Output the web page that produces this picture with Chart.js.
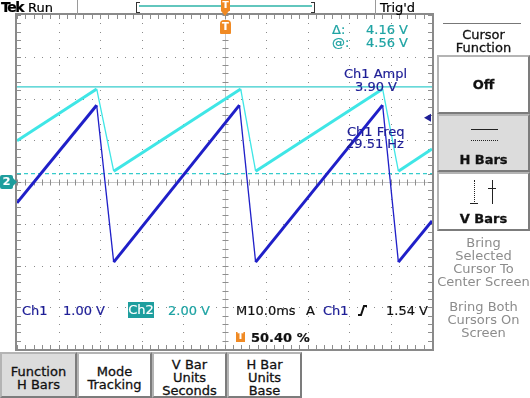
<!DOCTYPE html>
<html>
<head>
<meta charset="utf-8">
<script src="https://cdn.jsdelivr.net/npm/chart.js@4.4.0/dist/chart.umd.min.js"></script>
<style>
body{margin:0;background:#fff;font-family:"DejaVu Sans",sans-serif;}
#tela{position:relative;width:530px;height:398px;overflow:hidden;background:#fff;}
#tela canvas{position:absolute;left:0;top:0;}
.t{position:absolute;white-space:nowrap;font-size:13px;line-height:13px;-webkit-text-stroke:0.2px;}
.azul{color:#1e1e96;}
.teal{color:#1ea3a3;}
.cinza{color:#8c8c8c;-webkit-text-stroke:0;}
.caixa{position:absolute;box-sizing:border-box;border:2px solid #b4b4b4;border-right-color:#7c7c7c;border-bottom-color:#7c7c7c;background:#fff;text-align:center;font-size:13px;line-height:13px;color:#111;-webkit-text-stroke:0.3px;}
.sel{background:#dcdcdc;}
.centro{position:absolute;left:0;width:100%;text-align:center;}
</style>
</head>
<body>
<div id="tela">
  <canvas id="grafico" width="530" height="398"></canvas>

  <!-- barra de cima -->
  <div class="t" style="left:1px;top:0;font-weight:bold;font-size:14px;line-height:15px;letter-spacing:-1.5px;">Tek</div>
  <div class="t" style="left:28px;top:1px;">Run</div>
  <div style="position:absolute;left:77px;top:0;width:1px;height:15px;background:#9a9a9a;"></div>
  <div style="position:absolute;left:375px;top:0;width:1px;height:15px;background:#9a9a9a;"></div>
  <div style="position:absolute;left:136px;top:2px;width:3px;height:9px;border:1px solid #333;border-right:none;"></div>
  <div style="position:absolute;left:311px;top:2px;width:3px;height:9px;border:1px solid #333;border-left:none;"></div>
  <div style="position:absolute;left:139px;top:5px;width:173px;height:2px;background:#62c6bd;"></div>
  <div class="t" style="left:221px;top:0;width:9px;height:11px;background:#f08a24;color:#fff;font-size:9px;line-height:11px;text-align:center;font-weight:bold;">T</div>
  <div style="position:absolute;left:221px;top:11px;width:0;height:0;border-left:4.5px solid transparent;border-right:4.5px solid transparent;border-top:5px solid #f08a24;"></div>
  <div class="t" style="left:220px;top:20px;width:11px;height:14px;background:#f08a24;color:#fff;font-size:10px;line-height:14px;text-align:center;font-weight:bold;border-radius:4px 4px 1px 1px;">T</div>
  <div class="t" style="left:380px;top:1px;">Trig'd</div>

  <!-- leituras dos cursores -->
  <div class="t teal" style="left:332px;top:23px;">Δ:</div>
  <div class="t teal" style="left:366px;top:23px;">4.16 V</div>
  <div class="t teal" style="left:332px;top:36px;">@:</div>
  <div class="t teal" style="left:366px;top:36px;">4.56 V</div>

  <!-- medidas -->
  <div class="t azul" style="left:344px;top:67px;">Ch1 Ampl</div>
  <div class="t azul" style="left:355px;top:80px;">3.90 V</div>
  <div class="t azul" style="left:347px;top:125px;">Ch1 Freq</div>
  <div class="t azul" style="left:346px;top:137px;">29.51 Hz</div>

  <!-- marcador do Ch2 -->
  <div class="t" style="left:0;top:175px;width:13px;height:14px;background:#1e9e9e;color:#fff;font-size:11px;line-height:14px;text-align:center;font-weight:bold;border-radius:2px;">2</div>
  <div style="position:absolute;left:13px;top:178px;width:0;height:0;border-top:4px solid transparent;border-bottom:4px solid transparent;border-left:4px solid #1e9e9e;"></div>

  <!-- linha de estado -->
  <div class="t azul" style="left:22px;top:304px;">Ch1</div>
  <div class="t azul" style="left:63px;top:304px;">1.00 V</div>
  <div class="t" style="left:128px;top:302px;width:26px;height:16px;background:#1e9e9e;color:#fff;line-height:16px;text-align:center;">Ch2</div>
  <div class="t teal" style="left:168px;top:304px;">2.00 V</div>
  <div class="t" style="left:236px;top:304px;color:#111;">M10.0ms</div>
  <div class="t" style="left:306px;top:304px;color:#111;">A</div>
  <div class="t azul" style="left:323px;top:304px;">Ch1</div>
  <svg style="position:absolute;left:358px;top:304px;" width="10" height="13"><polyline points="0,11 3,11 6,2 9,2" fill="none" stroke="#111" stroke-width="2"/></svg>
  <div class="t" style="left:386px;top:304px;color:#111;">1.54 V</div>
  <div class="t" style="left:236px;top:332px;width:9px;height:10px;background:#f08a24;color:#fff;font-size:8px;line-height:10px;text-align:center;font-weight:bold;">T</div>
  <div class="t" style="left:251px;top:331px;color:#111;font-weight:bold;">50.40 %</div>

  <!-- menu da direita -->
  <div style="position:absolute;left:443px;top:23px;width:78px;height:1px;background:#777;"></div>
  <div class="t" style="left:437px;top:28px;width:93px;text-align:center;color:#111;line-height:13px;-webkit-text-stroke:0.3px;">Cursor<br>Function</div>
  <div class="caixa" style="left:437px;top:55px;width:93px;height:59px;">
    <div class="centro" style="top:21px;font-weight:bold;">Off</div>
  </div>
  <div class="caixa sel" style="left:437px;top:114px;width:93px;height:58px;">
    <div style="position:absolute;left:32px;top:13px;width:27px;border-top:1px solid #222;"></div>
    <div style="position:absolute;left:32px;top:24px;width:27px;border-top:1px dotted #222;"></div>
    <div class="centro" style="top:37px;font-weight:bold;">H Bars</div>
  </div>
  <div class="caixa" style="left:437px;top:172px;width:93px;height:59px;">
    <div style="position:absolute;left:35px;top:6px;height:24px;border-left:1px dotted #222;"></div>
    <div style="position:absolute;left:31px;top:29px;width:8px;border-top:1px solid #222;"></div>
    <div style="position:absolute;left:53px;top:6px;height:24px;border-left:1px solid #222;"></div>
    <div style="position:absolute;left:49px;top:14px;width:8px;border-top:1px solid #222;"></div>
    <div class="centro" style="top:38px;font-weight:bold;">V Bars</div>
  </div>
  <div class="t cinza" style="left:437px;top:236px;width:93px;text-align:center;">Bring<br>Selected<br>Cursor To<br>Center Screen</div>
  <div class="t cinza" style="left:437px;top:300px;width:93px;text-align:center;">Bring Both<br>Cursors On<br>Screen</div>

  <!-- menu de baixo -->
  <div class="caixa sel" style="left:0;top:352px;width:77px;height:46px;"><div class="centro" style="top:11px;">Function<br>H Bars</div></div>
  <div class="caixa" style="left:77px;top:352px;width:75px;height:46px;"><div class="centro" style="top:11px;">Mode<br>Tracking</div></div>
  <div class="caixa" style="left:152px;top:352px;width:75px;height:46px;"><div class="centro" style="top:4px;">V Bar<br>Units<br>Seconds</div></div>
  <div class="caixa" style="left:227px;top:352px;width:75px;height:46px;"><div class="centro" style="top:4px;">H Bar<br>Units<br>Base</div></div>
</div>

<script>
// Escalas do osciloscopio
var escalaTempo = 10;   // ms/div
var escalaCh1 = 1.00;   // V/div
var escalaCh2 = 2.00;   // V/div

// Ch1 (azul) - tempo em ms, tensao em V
var tempoCh1 = [-50, -30.8, -26.7, 3.6, 7.5, 38.1, 41.9, 50];
var voltsCh1 = [-0.5, 1.84, -1.92, 1.84, -1.92, 1.84, -1.92, -0.93];
// Ch2 (ciano)
var tempoCh2 = [-50, -30.8, -26.7, 3.9, 7.5, 38.1, 41.9, 50];
var voltsCh2 = [1.98, 4.46, 0.52, 4.46, 0.52, 4.46, 0.52, 1.58];

// cursores H Bars (no Ch2) e nivel do trigger (Ch1)
var cursores = [4.56, 0.40];
var nivelTrigger = 1.54;

function juntaPontos(tempo, volts){
  return tempo.map((t, i) => ({x: t, y: volts[i]}));
}

// grade do osciloscopio: pontos, cruz central com marcas, bordas
const graticulo = {
  id: 'graticulo',
  beforeDatasetsDraw(chart){
    const ctx = chart.ctx, a = chart.chartArea;
    const x = chart.scales.x, y = chart.scales.y;
    const nx = 5, ny = 4;
    ctx.save();
    ctx.fillStyle = '#8a8a8a';
    for (let d = -nx; d <= nx; d++){
      const px = Math.round(x.getPixelForValue(d*escalaTempo));
      for (let m = -ny*5; m <= ny*5; m++){
        ctx.fillRect(px, Math.round(y.getPixelForValue(m*escalaCh1/5)), 1, 1);
      }
    }
    for (let d = -ny; d <= ny; d++){
      const py = Math.round(y.getPixelForValue(d*escalaCh1));
      for (let m = -nx*5; m <= nx*5; m++){
        ctx.fillRect(Math.round(x.getPixelForValue(m*escalaTempo/5)), py, 1, 1);
      }
    }
    const cx = Math.round(x.getPixelForValue(0)) + 0.5;
    const cy = Math.round(y.getPixelForValue(0)) + 0.5;
    // cruz central fraca
    ctx.strokeStyle = '#c8c8c8';
    ctx.lineWidth = 1;
    ctx.beginPath();
    ctx.moveTo(a.left, cy); ctx.lineTo(a.right, cy);
    ctx.moveTo(cx, a.top); ctx.lineTo(cx, a.bottom);
    ctx.stroke();
    // marcas menores
    ctx.strokeStyle = '#8e8e8e';
    ctx.beginPath();
    for (let m = -nx*5; m <= nx*5; m++){
      const px = Math.round(x.getPixelForValue(m*escalaTempo/5)) + 0.5;
      ctx.moveTo(px, cy-3); ctx.lineTo(px, cy+3);
      ctx.moveTo(px, a.top); ctx.lineTo(px, a.top+4);
      ctx.moveTo(px, a.bottom); ctx.lineTo(px, a.bottom-4);
    }
    for (let m = -ny*5; m <= ny*5; m++){
      const py = Math.round(y.getPixelForValue(m*escalaCh1/5)) + 0.5;
      ctx.moveTo(cx-3, py); ctx.lineTo(cx+3, py);
      ctx.moveTo(a.left, py); ctx.lineTo(a.left+4, py);
      ctx.moveTo(a.right, py); ctx.lineTo(a.right-4, py);
    }
    ctx.stroke();
    ctx.strokeStyle = '#8a8a8a';
    ctx.lineWidth = 2;
    ctx.strokeRect(a.left-1, a.top-1, a.right-a.left+2, a.bottom-a.top+2);
    ctx.restore();
  },
  afterDatasetsDraw(chart){
    // seta do nivel de trigger na direita
    const ctx = chart.ctx, a = chart.chartArea;
    const py = chart.scales.y.getPixelForValue(nivelTrigger);
    ctx.save();
    ctx.fillStyle = '#1e1e96';
    ctx.beginPath();
    ctx.moveTo(a.right-8, py);
    ctx.lineTo(a.right-1, py-4);
    ctx.lineTo(a.right-1, py+4);
    ctx.closePath();
    ctx.fill();
    ctx.restore();
  }
};

// rampa de subida grossa, descida fina
function larguraTraco(c){
  return c.p1.parsed.y < c.p0.parsed.y ? 1.3 : 3;
}

new Chart(document.getElementById('grafico'), {
  type: 'scatter',
  data: {
    datasets: [
      {
        label: 'Ch1',
        data: juntaPontos(tempoCh1, voltsCh1),
        yAxisID: 'y',
        showLine: true,
        borderColor: '#1f1fc8',
        borderWidth: 3,
        pointRadius: 0,
        clip: 0,
        segment: {borderWidth: larguraTraco}
      },
      {
        label: 'Ch2',
        data: juntaPontos(tempoCh2, voltsCh2),
        yAxisID: 'y2',
        showLine: true,
        borderColor: '#3fe6e6',
        borderWidth: 3,
        pointRadius: 0,
        clip: 0,
        segment: {borderWidth: larguraTraco}
      },
      {
        label: 'Cursor 1',
        data: [{x: -5*escalaTempo, y: cursores[0]}, {x: 5*escalaTempo, y: cursores[0]}],
        yAxisID: 'y2',
        showLine: true,
        borderColor: '#36cccc',
        borderWidth: 1.2,
        pointRadius: 0
      },
      {
        label: 'Cursor 2',
        data: [{x: -5*escalaTempo, y: cursores[1]}, {x: 5*escalaTempo, y: cursores[1]}],
        yAxisID: 'y2',
        showLine: true,
        borderColor: '#36cccc',
        borderWidth: 1.2,
        borderDash: [4, 3],
        pointRadius: 0
      }
    ]
  },
  options: {
    responsive: false,
    animation: false,
    events: [],
    layout: {padding: {left: 17, top: 15, right: 98, bottom: 49}},
    plugins: {legend: {display: false}, tooltip: {enabled: false}},
    scales: {
      x: {type: 'linear', min: -5*escalaTempo, max: 5*escalaTempo, display: false},
      y: {type: 'linear', min: -4*escalaCh1, max: 4*escalaCh1, display: false},
      y2: {type: 'linear', min: -4*escalaCh2, max: 4*escalaCh2, display: false}
    }
  },
  plugins: [graticulo]
});
</script>
</body>
</html>
